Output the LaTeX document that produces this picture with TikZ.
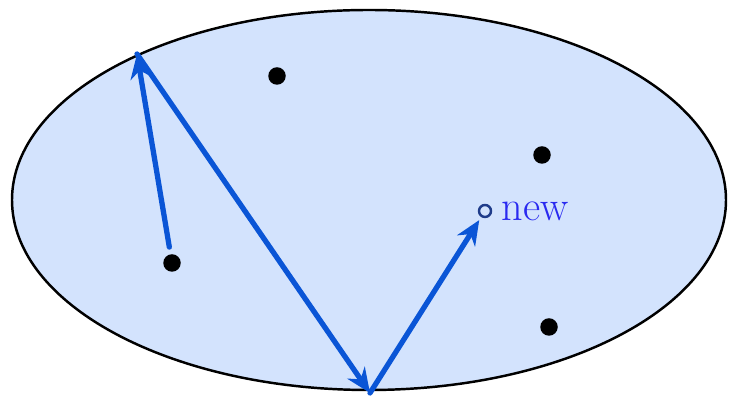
\documentclass[tikz,border=0pt]{standalone}
\usepackage{tikz}
\usetikzlibrary{arrows.meta,positioning}
\definecolor{walkfill}{HTML}{D3E3FD}
\definecolor{walkblue}{HTML}{0A55D6}
\definecolor{walknew}{HTML}{1F3C8A}
\definecolor{walktext}{HTML}{2A2AF0}

\begin{document}
\begin{tikzpicture}[>={Stealth[length=14pt,width=12pt]},line cap=round,line join=round,
  dot/.style={circle,inner sep=0pt,minimum size=0.35cm,fill=black},
  opendot/.style={circle,draw=walknew,line width=1.4pt,inner sep=0pt,minimum size=0.24cm},
  hop/.style={->,walkblue,line width=3pt}]
\path[use as bounding box] (0,0) rectangle (14.6,7.92);
\fill[white] (0,0) rectangle (14.6,7.92);

% region
\draw[black,line width=1.4pt,fill=walkfill] (7.38,3.92) ellipse[x radius=7.14,y radius=3.8];

% samples
\node[dot] (s1) at (5.54,6.40) {};
\node[dot] (s2) at (10.84,4.82) {};
\node[dot] (s3) at (3.44,2.66) {};
\node[dot] (s4) at (10.98,1.38) {};

% hit points on the boundary
\coordinate (apex) at (2.74,6.84);
\coordinate (foot) at (7.40,0.06);

\node[opendot] (new) at (9.70,3.70) {};
\node[right=0.18cm of new,text=walktext,font=\fontsize{24}{28}\selectfont,inner sep=0pt] (newlabel) {new};

\draw[hop,shorten <=4pt] (s3) -- (apex);
\draw[hop] (apex) -- (foot);
\draw[hop,shorten >=2pt] (foot) -- (new);
\end{tikzpicture}
\end{document}
